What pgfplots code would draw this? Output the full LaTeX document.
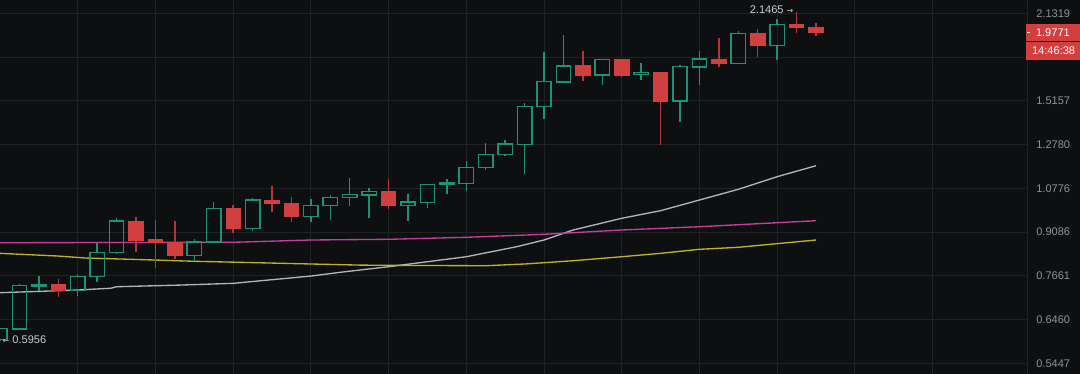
\documentclass[border=0pt]{standalone}
\usepackage{pgfplots}
\pgfplotsset{compat=1.18}
\usepackage{pgfplotstable}
\usepackage{fontspec}
\setmainfont{Liberation Sans}
\newfontfamily\dejavu{DejaVu Sans}
\definecolor{bg}{HTML}{0E0F11}
\definecolor{gridc}{HTML}{1F2125}
\definecolor{upc}{HTML}{1E9274}
\definecolor{dnc}{HTML}{D13F41}
\definecolor{dnw}{HTML}{B3363A}
\definecolor{maw}{HTML}{B2B4B8}
\definecolor{mam}{HTML}{C4409A}
\definecolor{may}{HTML}{BDB32B}
\definecolor{lab}{HTML}{8E929A}
\definecolor{hl}{HTML}{C8CBD0}

\pgfplotstableread{
k o h l c
0 0.5975 0.6250 0.5956 0.6243
1 0.6226 0.7420 0.6220 0.7371
2 0.7348 0.7655 0.7229 0.7391
3 0.7400 0.7557 0.7062 0.7229
4 0.7229 0.7706 0.7090 0.7646
5 0.7634 0.8696 0.7469 0.8397
6 0.8384 0.9598 0.8342 0.9486
7 0.9486 0.9635 0.8416 0.8809
8 0.8833 0.9512 0.7907 0.8716
9 0.8740 0.9475 0.8180 0.8285
10 0.8285 0.8833 0.8125 0.8740
11 0.8740 1.0204 0.8696 0.9953
12 0.9953 1.0109 0.9063 0.9220
13 0.9220 1.0388 0.9134 1.0295
14 1.0295 1.0886 0.9837 1.0148
15 1.0164 1.0404 0.9460 0.9647
16 0.9647 1.0335 0.9460 1.0085
17 1.0069 1.0498 0.9512 1.0404
18 1.0404 1.1205 1.0069 1.0527
19 1.0498 1.0776 0.9609 1.0651
20 1.0663 1.1174 0.9930 1.0069
21 1.0085 1.0539 0.9486 1.0216
22 1.0188 1.0945 0.9980 1.0945
23 1.0945 1.1174 1.0527 1.1001
24 1.0988 1.1972 1.0676 1.1695
25 1.1677 1.2843 1.1586 1.2303
26 1.2284 1.3009 1.2236 1.2807
27 1.2792 1.5027 1.1380 1.4836
28 1.4836 1.8312 1.4136 1.6328
29 1.6309 1.9565 1.6309 1.7359
30 1.7381 1.8406 1.6353 1.6761
31 1.6761 1.7791 1.6139 1.7791
32 1.7791 1.7800 1.6650 1.6761
33 1.6781 1.7543 1.6439 1.6912
34 1.6912 1.6950 1.2743 1.5145
35 1.5145 1.7462 1.3955 1.7312
36 1.7293 1.8406 1.6101 1.7839
37 1.7839 1.9338 1.7312 1.7516
38 1.7543 1.9899 1.7543 1.9721
39 1.9721 2.0076 1.7990 1.8841
40 1.8819 2.0850 1.7749 2.0392
41 2.0424 2.1465 1.9767 2.0155
42 2.0210 2.0503 1.9539 1.9771
}\ohlc

\begin{document}
\begin{tikzpicture}
\fill[bg] (0,0) rectangle (810pt,280.5pt);
\path[use as bounding box] (0,0) rectangle (810pt,280.5pt);
\begin{axis}[
  at={(0,0)}, anchor=south west,
  scale only axis, width=770.25pt, height=280.5pt,
  xmin=0, xmax=52.86, ymode=log, ymin=0.52244, ymax=2.2454,
  axis line style={draw=none}, tick style={draw=none},
  xtick={4,8,...,48}, xticklabel=\empty,
  ytick={0.5447,0.6460,0.7661,0.9086,1.0776,1.2780,1.5157,1.7976,2.1319},
  yticklabels={0.5447,0.6460,0.7661,0.9086,1.0776,1.2780,1.5157,1.7976,2.1319},
  yticklabel pos=right,
  yticklabel style={anchor=west, inner sep=0pt, xshift=6.75pt, font=\fontsize{8.3}{10}\selectfont, text=lab},
  grid=major, major grid style={draw=gridc, line width=0.75pt},
  clip=false,
]
% moving averages
\addplot[maw, line width=1pt] coordinates {
(0,0.7173) (4,0.7249) (5.7,0.7300) (6,0.7342) (9.3,0.7390) (12,0.7440) (16,0.7655) (17.5,0.7766)
(20,0.7938) (24,0.8253) (26.6,0.8582) (28,0.8809) (29.5,0.9159) (32,0.9587)
(34,0.9876) (36,1.0295) (38,1.0734) (40,1.1275) (42,1.1768)};
\addplot[mam, line width=1pt] coordinates {
(0,0.8716) (12,0.8731) (16,0.8809) (20,0.8833) (24,0.8902) (28,0.9007)
(32,0.9159) (36,0.9277) (42,0.9497)};
\addplot[may, line width=1pt] coordinates {
(0,0.8363) (3,0.8275) (4.4,0.8211) (5.7,0.8189) (8,0.8147) (10,0.8107) (12,0.8080)
(16,0.8022) (18.5,0.7990) (20,0.7981) (25,0.7969) (27,0.8022) (29.5,0.8125)
(32,0.8253) (34,0.8363) (36,0.8495) (38,0.8562) (42,0.8809)};
% candles
\pgfplotsforeachungrouped \i in {0,...,42}{%
  \pgfplotstablegetelem{\i}{o}\of\ohlc\let\cO\pgfplotsretval
  \pgfplotstablegetelem{\i}{h}\of\ohlc\let\cH\pgfplotsretval
  \pgfplotstablegetelem{\i}{l}\of\ohlc\let\cL\pgfplotsretval
  \pgfplotstablegetelem{\i}{c}\of\ohlc\let\cC\pgfplotsretval
  \pgfmathsetmacro\xa{\i-0.37}%
  \pgfmathsetmacro\xb{\i+0.37}%
  \pgfmathtruncatemacro\up{\cC>=\cO}%
  \ifnum\up=1
    \edef\tmp{%
      \noexpand\addplot[draw=upc, line width=1pt] coordinates {(\i,\cL) (\i,\cO)};
      \noexpand\addplot[draw=upc, line width=1pt] coordinates {(\i,\cC) (\i,\cH)};
      \noexpand\addplot[draw=upc, line width=1.1pt] coordinates {(\xa,\cO) (\xb,\cO) (\xb,\cC) (\xa,\cC)} --cycle;}%
  \else
    \edef\tmp{%
      \noexpand\addplot[draw=dnw, line width=1pt] coordinates {(\i,\cL) (\i,\cH)};
      \noexpand\addplot[draw=dnc, fill=dnc, line width=0.6pt] coordinates {(\xa,\cO) (\xb,\cO) (\xb,\cC) (\xa,\cC)} --cycle;}%
  \fi
  \tmp
}
\node[anchor=east, inner sep=0pt, text=hl, font=\fontsize{8.3}{10}\selectfont] at ([yshift=1.1pt]axis cs:40.85,2.1465) {2.1465 {\dejavu\fontsize{6}{6}\selectfont →}};
\node[anchor=west, inner sep=0pt, text=hl, font=\fontsize{8.3}{10}\selectfont] at ([yshift=0.2pt]axis cs:0.12,0.5956) {{\dejavu\fontsize{6}{6}\selectfont ←} 0.5956};
\draw[gridc, line width=0.75pt] (rel axis cs:1,0) -- (rel axis cs:1,1);
\coordinate (pb) at (axis cs:52.86,1.9771);
\end{axis}
\node[fill=dnc, anchor=west, minimum width=41pt, minimum height=13pt, inner sep=0pt] (b1) at ([xshift=-0.75pt,yshift=0.3pt]pb) {};
\draw[white, line width=0.8pt] ([xshift=0.9pt]b1.west) -- ++(2.4pt,0);
\node[anchor=west, text=white, inner sep=0pt, font=\fontsize{8.3}{10}\selectfont] at ([xshift=7.3pt]b1.west) {1.9771};
\node[fill=dnc, anchor=north west, minimum width=41pt, minimum height=13.2pt, inner sep=0pt, text=white, font=\fontsize{8.3}{10}\selectfont] (b2) at ([yshift=-0.5pt]b1.south west) {14:46:38};
\end{tikzpicture}
\end{document}
